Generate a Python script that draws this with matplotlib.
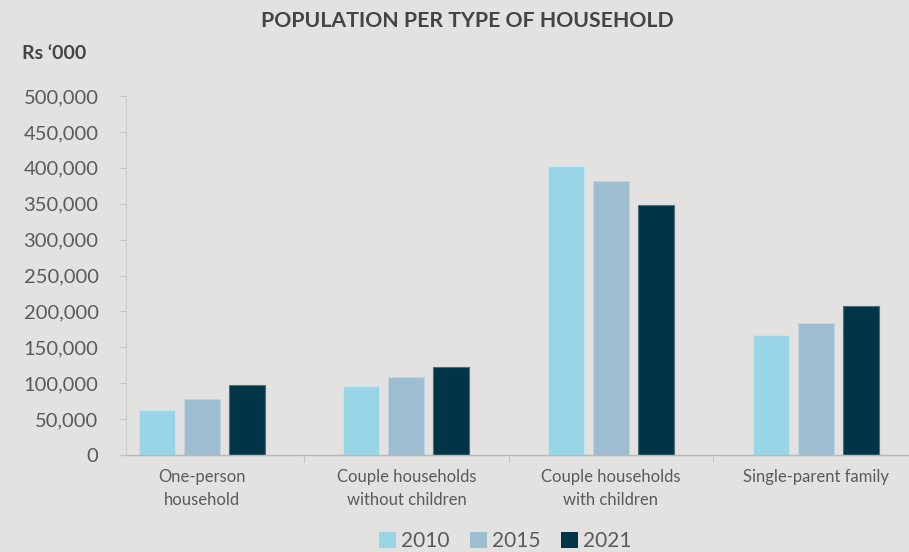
import numpy as np
import matplotlib
matplotlib.use("Agg")
import matplotlib.pyplot as plt
from matplotlib.patches import Patch

plt.rcParams['font.family'] = ['Lato', 'DejaVu Sans']

categories = ["One-person\nhousehold", "Couple households\nwithout children",
              "Couple households\nwith children", "Single-parent family"]
years = ["2010", "2015", "2021"]
v2010 = [63000, 96000, 403000, 167000]
v2015 = [78000, 109000, 382000, 184000]
v2021 = [97000, 123000, 348000, 208000]
yticks = [0, 50000, 100000, 150000, 200000, 250000, 300000, 350000, 400000, 450000, 500000]

colors = ["#97d5e7", "#9dbdd0", "#003548"]
edges = ["#c6e6ef", "#c2d4df", "#4d6d7a"]
bg = "#e3e2e0"
txt = "#5a5a5a"

fig = plt.figure(figsize=(9.09, 5.52), dpi=100, facecolor=bg)
ax = fig.add_axes([0.139, 0.1757, 0.861, 0.6504])
ax.set_facecolor(bg)

x = np.arange(len(categories))
w = 0.176
off = 0.22
for i, vals in enumerate([v2010, v2015, v2021]):
    ax.bar(x + (i - 1) * off, vals, width=w, color=colors[i],
           edgecolor=edges[i], linewidth=0.8, zorder=2)

ax.set_xlim(-0.369, 3.457)
ax.set_ylim(0, 500000)
ax.set_yticks(yticks)
ax.set_yticklabels([f"{t:,}" for t in yticks], fontsize=14.5, color=txt)
ax.tick_params(axis='y', length=5, width=0.8, color="#c4c4c4", pad=15)

ax.set_xticks(x)
ax.set_xticklabels(categories, fontsize=12, color=txt, linespacing=1.55)
ax.tick_params(axis='x', which='major', length=0, pad=10)
ax.set_xticks([0.5, 1.5, 2.5], minor=True)
ax.tick_params(axis='x', which='minor', length=5, width=0.8, color="#c4c4c4")

for s in ["top", "right"]:
    ax.spines[s].set_visible(False)
ax.spines["left"].set_color("#cfcfcf")
ax.spines["bottom"].set_color("#b8b8b8")
ax.spines["left"].set_linewidth(1.0)
ax.spines["bottom"].set_linewidth(1.0)

fig.text(0.514, 0.962, "POPULATION PER TYPE OF HOUSEHOLD", ha="center", va="center",
         fontsize=15.3, fontweight="bold", color="#444444")
fig.text(0.024, 0.903, "Rs \u2018000", ha="left", va="center",
         fontsize=14, fontweight="bold", color="#444444")

handles = [Patch(facecolor=c, edgecolor="none") for c in colors]
fig.legend(handles, years, loc="center", bbox_to_anchor=(0.556, 0.02), ncol=3,
           frameon=False, fontsize=15, handlelength=0.8, handleheight=0.8,
           handletextpad=0.25, columnspacing=1.0, labelcolor=txt)

fig.savefig("out.png", dpi=100, facecolor=bg)
